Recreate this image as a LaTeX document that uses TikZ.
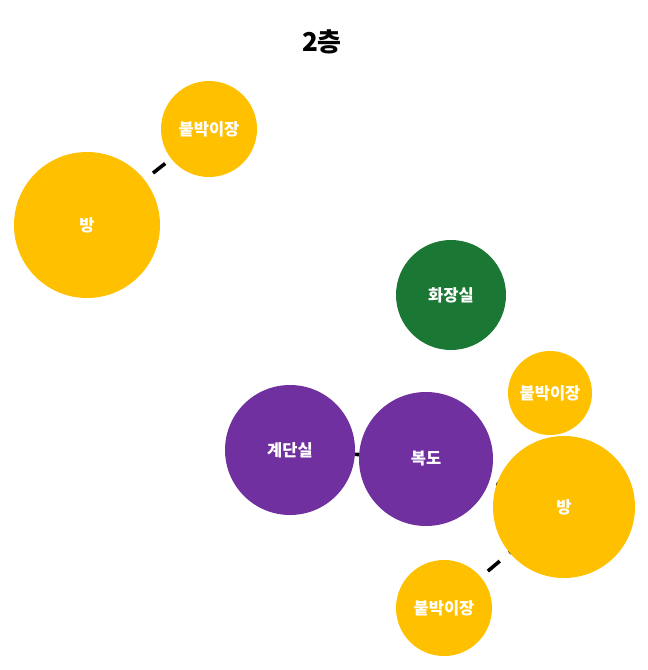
\documentclass[tikz,border=0pt]{standalone}
\usepackage{fontspec}
\newfontfamily\kr{Noto Sans CJK KR}
\usetikzlibrary{backgrounds}
\definecolor{roomyellow}{HTML}{FFC000}
\definecolor{roomgreen}{HTML}{1A7734}
\definecolor{roompurple}{HTML}{7030A0}
\tikzset{
  room/.style={circle,inner sep=0pt,text=white,font=\kr\bfseries\fontsize{16.5}{18}\selectfont},
  link/.style={line width=3.6pt,dash pattern=on 15.5pt off 12.5pt}
}
\begin{document}
\begin{tikzpicture}[x=1pt,y=-1pt]
    \useasboundingbox (0,0) rectangle (648,670);

    \node (title) at (322,42) {\kr\bfseries\fontsize{26}{30}\selectfont 2층};

    % 왼쪽 위
    \node[room,fill=roomyellow,minimum size=146pt] (bangA) at (87,225) {방};
    \node[room,fill=roomyellow,minimum size=96pt] (closetA) at (209,129) {붙박이장};

    % 오른쪽 아래
    \node[room,fill=roomgreen,minimum size=110pt] (toilet) at (451,295) {화장실};
    \node[room,fill=roomyellow,minimum size=84pt] (closetB) at (550,393) {붙박이장};
    \node[room,fill=roompurple,minimum size=130pt] (stairs) at (290,450) {계단실};
    \node[room,fill=roompurple,minimum size=134pt] (hall) at (426,459) {복도};
    \node[room,fill=roomyellow,minimum size=142pt] (bangB) at (564,507) {방};
    \node[room,fill=roomyellow,minimum size=96pt] (closetC) at (444,608) {붙박이장};

    \begin{pgfonlayer}{background}
        \draw[link] (bangA.center) -- (closetA.center);
        \draw[link] (stairs.center) -- (hall.center);
        \draw[link] (bangB.center) -- (hall.center);
        \draw[link] (bangB.center) -- (closetC.center);
    \end{pgfonlayer}
\end{tikzpicture}
\end{document}
